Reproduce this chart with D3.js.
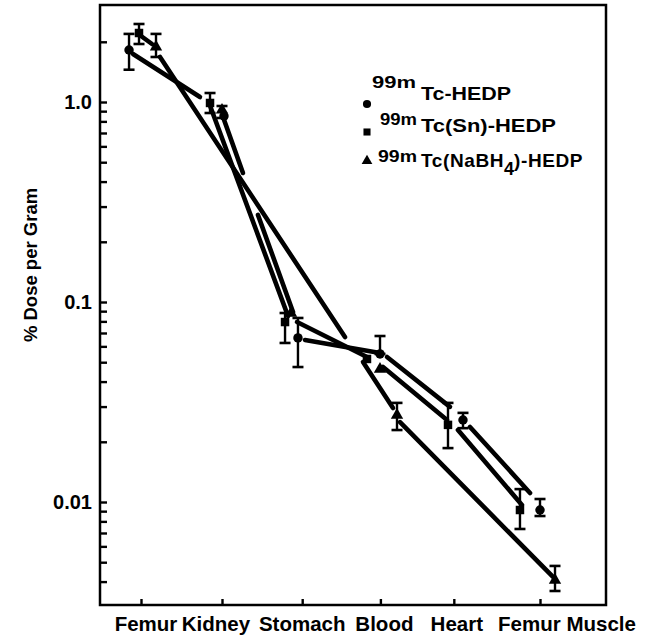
<!DOCTYPE html>
<html><head><meta charset="utf-8">
<script src="https://cdn.jsdelivr.net/npm/d3@7"></script>
<style>body{margin:0;background:#fff}</style>
</head><body><svg id="c" width="648" height="638"></svg>
<script>
// ---------- data ----------
const categories = ["Femur", "Kidney", "Stomach", "Blood", "Heart", "Femur Muscle"];
const categoryPos = [0, 1.015, 2.02, 3.0, 3.92, 5.0];
const yTickValues = [2, 1, 0.9, 0.8, 0.7, 0.6, 0.5, 0.4, 0.3, 0.2,
  0.1, 0.09, 0.08, 0.07, 0.06, 0.05, 0.04, 0.03, 0.02,
  0.01, 0.009, 0.008, 0.007, 0.006, 0.005, 0.004];
const yTickLabels = [[1, "1.0"], [0.1, "0.1"], [0.01, "0.01"]];
const yTitle = "% Dose per Gram";

// 99mTc-HEDP (circles)
const hedpPos = [-0.15, 1.04, 1.967, 2.995, 4.035, 5.0];
const hedpVal = [1.82, 0.851, 0.0661, 0.0550, 0.0257, 0.00912];
const hedpHi  = [2.19, 0.851, 0.0832, 0.0676, 0.0279, 0.01035];
const hedpLo  = [1.45, 0.851, 0.0473, 0.0550, 0.0234, 0.00851];
const hedpLines = [
  [[-0.100, 1.738], [0.739, 1.059]],
  [[1.028, 0.841], [1.278, 0.4416]],
  [[1.466, 0.2723], [1.905, 0.0891]],
  [[2.055, 0.0646], [2.995, 0.0556]],
  [[3.083, 0.0531], [3.872, 0.0299]],
  [[4.123, 0.0237], [4.875, 0.0111]]
];

// 99mTc(Sn)-HEDP (squares)
const snPos = [-0.025, 0.865, 1.805, 2.832, 3.847, 4.749];
const snVal = [2.213, 0.989, 0.0794, 0.0519, 0.0243, 0.00912];
const snHi  = [2.455, 1.109, 0.0881, 0.0519, 0.0313, 0.0116];
const snLo  = [1.95, 0.881, 0.0624, 0.0519, 0.0186, 0.00733];
const snLines = [
  [[0.0, 2.138], [0.138, 1.950]],
  [[0.852, 0.989], [1.842, 0.0851]],
  [[1.955, 0.0794], [2.832, 0.0531]],
  [[2.782, 0.0501], [3.158, 0.0295]],
  [[3.972, 0.0229], [4.774, 0.00966]]
];

// 99mTc(NaBH4)-HEDP (triangles)
const nabPos = [0.188, 1.015, 1.88, 2.995, 3.208, 5.188];
const nabVal = [1.884, 0.912, 0.088, 0.0462, 0.0272, 0.00407];
const nabHi  = [2.19, 0.955, 0.088, 0.0462, 0.0313, 0.00479];
const nabLo  = [1.679, 0.832, 0.088, 0.0462, 0.0229, 0.00359];
const nabLines = [
  [[0.238, 1.679], [2.556, 0.0668]],
  [[3.033, 0.0473], [3.835, 0.0257]],
  [[3.246, 0.0251], [5.163, 0.00422]]
];

// legend texts
const legSup = "99m";
const legMain = [["Tc-HEDP"], ["Tc(Sn)-HEDP"], ["Tc(NaBH", "4", ")-HEDP"]];

// ---------- drawing ----------
const svg = d3.select("#c");
svg.append("rect").attr("width", 648).attr("height", 638).attr("fill", "#fff");

const L = 100, R = 606, T = 5, B = 605;
const x = d3.scaleLinear().domain([0, 5]).range([141, 540]);
const y = d3.scaleLog().domain([0.003055, 3.055]).range([B, T]);
const FONT = "Liberation Sans, Arial, Helvetica, sans-serif";

// frame
svg.append("rect").attr("x", L).attr("y", T).attr("width", R - L).attr("height", B - T)
  .attr("fill", "none").attr("stroke", "#000").attr("stroke-width", 2.5);

// y axis (ticks inward)
const yAxis = d3.axisRight(y).tickValues(yTickValues).tickSize(7).tickFormat("");
const gy = svg.append("g").attr("transform", `translate(${L},0)`).call(yAxis);
gy.select(".domain").remove();
gy.selectAll(".tick line").attr("stroke", "#000").attr("stroke-width", 2.4);

svg.append("g").selectAll("text").data(yTickLabels).join("text")
  .attr("x", 92).attr("y", d => y(d[0]) + 7)
  .attr("text-anchor", "end")
  .attr("font-family", FONT)
  .attr("font-weight", "bold").attr("font-size", 20)
  .text(d => d[1]);

// x axis (ticks inward)
const xAxis = d3.axisTop(x).tickValues(categoryPos).tickSize(6).tickFormat("");
const gx = svg.append("g").attr("transform", `translate(0,${B})`).call(xAxis);
gx.select(".domain").remove();
gx.selectAll(".tick line").attr("stroke", "#000").attr("stroke-width", 2.4);

const labelShift = [5, -6, 0, 4, 3, 27];
svg.append("g").selectAll("text").data(categories).join("text")
  .attr("x", (d, i) => x(categoryPos[i]) + labelShift[i]).attr("y", 631)
  .attr("text-anchor", "middle")
  .attr("font-family", FONT)
  .attr("font-weight", "bold").attr("font-size", 20.5)
  .text(d => d);

// y title
svg.append("text")
  .attr("transform", "translate(37,265) rotate(-90)")
  .attr("text-anchor", "middle")
  .attr("font-family", FONT)
  .attr("font-weight", "bold").attr("font-size", 18.5)
  .text(yTitle);

// lines
const allLines = [hedpLines, snLines, nabLines];
const lineGen = d3.line().x(d => x(d[0])).y(d => y(d[1]));
allLines.forEach(segs => {
  svg.append("g").selectAll("path").data(segs).join("path")
    .attr("d", lineGen)
    .attr("fill", "none").attr("stroke", "#000")
    .attr("stroke-width", 4.6).attr("stroke-linecap", "round");
});

// error bars + markers
const series = [
  {pos: hedpPos, val: hedpVal, hi: hedpHi, lo: hedpLo, sym: d3.symbolCircle, size: 70},
  {pos: snPos, val: snVal, hi: snHi, lo: snLo, sym: d3.symbolSquare, size: 72},
  {pos: nabPos, val: nabVal, hi: nabHi, lo: nabLo, sym: d3.symbolTriangle, size: 66}
];
series.forEach(s => {
  const g = svg.append("g");
  s.val.forEach((v, i) => {
    if (s.hi[i] === s.lo[i]) return;
    const cx = x(s.pos[i]);
    g.append("line").attr("x1", cx).attr("x2", cx).attr("y1", y(s.hi[i])).attr("y2", y(s.lo[i]))
      .attr("stroke", "#000").attr("stroke-width", 2.4);
    [s.hi[i], s.lo[i]].forEach(e => {
      g.append("line").attr("x1", cx - 5.5).attr("x2", cx + 5.5).attr("y1", y(e)).attr("y2", y(e))
        .attr("stroke", "#000").attr("stroke-width", 2.6);
    });
  });
  g.selectAll("path").data(s.val).join("path")
    .attr("transform", (v, i) => `translate(${x(s.pos[i])},${y(v)})`)
    .attr("d", d3.symbol().type(s.sym).size(s.size))
    .attr("fill", "#000");
});

// legend
const legSyms = [d3.symbolCircle, d3.symbolSquare, d3.symbolTriangle];
const legMarkY = [104, 132, 161];
const legSupX = [372, 380, 378];
const legSupY = [88, 125, 162];
const legMainY = [100, 132, 167];
const legSupW = [44, 37, 39];
const legMainW = [90, 135, 0];
legSyms.forEach((sym, i) => {
  svg.append("path").attr("transform", `translate(367,${legMarkY[i]})`)
    .attr("d", d3.symbol().type(sym).size(i === 0 ? 52 : 50)).attr("fill", "#000");
  svg.append("text")
    .attr("x", legSupX[i]).attr("y", legSupY[i])
    .attr("font-family", FONT).attr("font-weight", "bold").attr("font-size", 17)
    .attr("textLength", legSupW[i]).attr("lengthAdjust", "spacingAndGlyphs")
    .text(legSup);
  const parts = legMain[i];
  const t = svg.append("text")
    .attr("x", 421).attr("y", legMainY[i])
    .attr("font-family", FONT).attr("font-weight", "bold").attr("font-size", 19);
  if (parts.length === 1) {
    t.attr("textLength", legMainW[i]).attr("lengthAdjust", "spacingAndGlyphs").text(parts[0]);
  } else {
    t.append("tspan").attr("letter-spacing", 0.6).text(parts[0]);
    t.append("tspan").attr("dy", 8).attr("font-size", 18).text(parts[1]);
    t.append("tspan").attr("dy", -8).attr("letter-spacing", 0.6).text(parts[2]);
  }
});
</script></body></html>
